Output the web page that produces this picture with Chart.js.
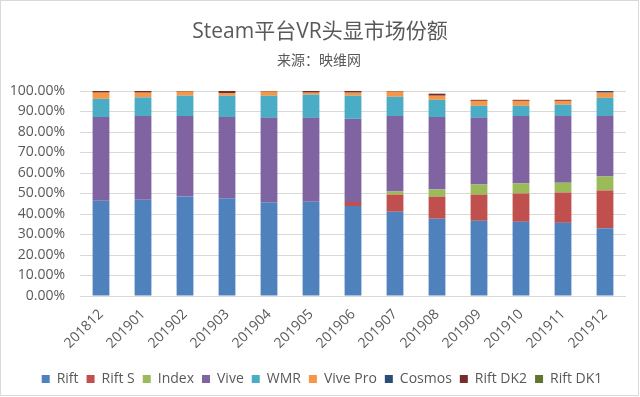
<!DOCTYPE html>
<html>
<head>
<meta charset="utf-8">
<script src="https://cdn.jsdelivr.net/npm/chart.js@4"></script>
<style>
  html, body { margin: 0; padding: 0; background: #fff; }
  #wrap { width: 640px; height: 397px; }
</style>
</head>
<body>
<div id="wrap"><canvas id="vrShareChart" width="640" height="397"></canvas></div>
<script>
// Months (categories)
const months = ['201812', '201901', '201902', '201903', '201904', '201905', '201906',
  '201907', '201908', '201909', '201910', '201911', '201912'];

// Share per headset, in percent
const rift    = [46.5, 47.0, 48.5, 47.7, 45.7, 46.0, 43.9, 41.1, 37.7, 36.7, 36.2, 35.7, 33.1];
const riftS   = [0, 0, 0, 0, 0, 0, 2.0, 8.4, 10.8, 12.8, 13.8, 14.8, 18.4];
const index   = [0, 0, 0, 0, 0, 0, 0, 1.5, 3.4, 4.9, 4.9, 4.8, 6.8];
const vive    = [40.8, 40.8, 39.3, 39.6, 41.2, 40.9, 40.5, 36.8, 35.4, 32.5, 32.9, 32.5, 29.5];
const wmr     = [8.9, 9.1, 9.9, 10.4, 10.8, 11.3, 11.3, 9.4, 8.4, 5.9, 5.0, 5.5, 8.9];
const vivePro = [3.0, 2.3, 2.0, 1.3, 2.0, 1.0, 1.5, 2.5, 2.0, 2.4, 2.4, 1.9, 2.5];
const cosmos  = [0, 0, 0, 0, 0, 0, 0, 0, 0, 0, 0, 0, 0.8];
const riftDK2 = [0.8, 0.8, 0.3, 1.0, 0.3, 0.8, 0.8, 0.3, 1.0, 0.5, 0.5, 0.5, 0];
const riftDK1 = [0, 0, 0, 0, 0, 0, 0, 0, 0, 0, 0, 0, 0];

const yTicks = [0, 10, 20, 30, 40, 50, 60, 70, 80, 90, 100];

const TEXT_COLOR = '#595959';
const GRID_COLOR = '#D9D9D9';
const FONT = "'Open Sans', 'Noto Sans CJK SC', sans-serif";

const SERIES = [
  { label: 'Rift',     data: rift,    color: '#4F81BD' },
  { label: 'Rift S',   data: riftS,   color: '#C0504D' },
  { label: 'Index',    data: index,   color: '#9BBB59' },
  { label: 'Vive',     data: vive,    color: '#8064A2' },
  { label: 'WMR',      data: wmr,     color: '#4BACC6' },
  { label: 'Vive Pro', data: vivePro, color: '#F79646' },
  { label: 'Cosmos',   data: cosmos,  color: '#2C4D75' },
  { label: 'Rift DK2', data: riftDK2, color: '#772C2A' },
  { label: 'Rift DK1', data: riftDK1, color: '#5F7530' }
];

// Title, source line and outer frame (Excel style)
const headerPlugin = {
  id: 'header',
  afterLayout(chart) {
    // nudge the legend a bit right, like the original
    if (chart.legend) {
      chart.legend.left += 9;
      chart.legend.right += 9;
    }
  },
  beforeDraw(chart) {
    const c = chart.ctx;
    c.save();
    c.fillStyle = '#fff';
    c.fillRect(0, 0, chart.width, chart.height);
    c.restore();
  },
  afterDraw(chart) {
    const c = chart.ctx;
    c.save();
    c.fillStyle = TEXT_COLOR;
    c.textAlign = 'center';
    c.textBaseline = 'middle';
    c.font = "21px " + FONT;
    c.fillText('Steam平台VR头显市场份额', 320, 32);
    c.font = "14px " + FONT;
    c.fillText('来源：映维网', 319, 61);
    c.strokeStyle = GRID_COLOR;
    c.lineWidth = 1;
    c.strokeRect(0.5, 0.5, chart.width - 2, chart.height - 2);
    c.restore();
  }
};

const ctx = document.getElementById('vrShareChart').getContext('2d');
const vrShareChart = new Chart(ctx, {
  type: 'bar',
  data: {
    labels: months,
    datasets: SERIES.map(s => ({
      label: s.label,
      data: s.data,
      backgroundColor: s.color,
      borderWidth: 0,
      categoryPercentage: 1,
      barPercentage: 0.4
    }))
  },
  options: {
    responsive: false,
    animation: false,
    devicePixelRatio: 1,
    layout: {
      padding: { top: 91, right: 14, bottom: 1, left: 0 }
    },
    plugins: {
      title: { display: false },
      tooltip: { enabled: false },
      legend: {
        position: 'bottom',
        labels: {
          boxWidth: 8,
          boxHeight: 8,
          padding: 8,
          color: TEXT_COLOR,
          font: { family: FONT, size: 14 }
        }
      }
    },
    scales: {
      x: {
        stacked: true,
        grid: { display: false },
        border: { display: false },
        ticks: {
          color: TEXT_COLOR,
          font: { family: FONT, size: 14 },
          maxRotation: 45,
          minRotation: 45,
          padding: 2
        },
        afterFit(scale) { scale.height = 68; }
      },
      y: {
        stacked: true,
        min: 0,
        max: 100,
        afterBuildTicks(scale) { scale.ticks = yTicks.map(v => ({ value: v })); },
        grid: { color: GRID_COLOR, drawTicks: false },
        border: { display: false },
        ticks: {
          color: TEXT_COLOR,
          font: { family: FONT, size: 14 },
          padding: 15,
          callback: v => v.toFixed(2) + '%'
        },
        afterFit(scale) { scale.width = 80; }
      }
    }
  },
  plugins: [headerPlugin]
});
</script>
</body>
</html>
